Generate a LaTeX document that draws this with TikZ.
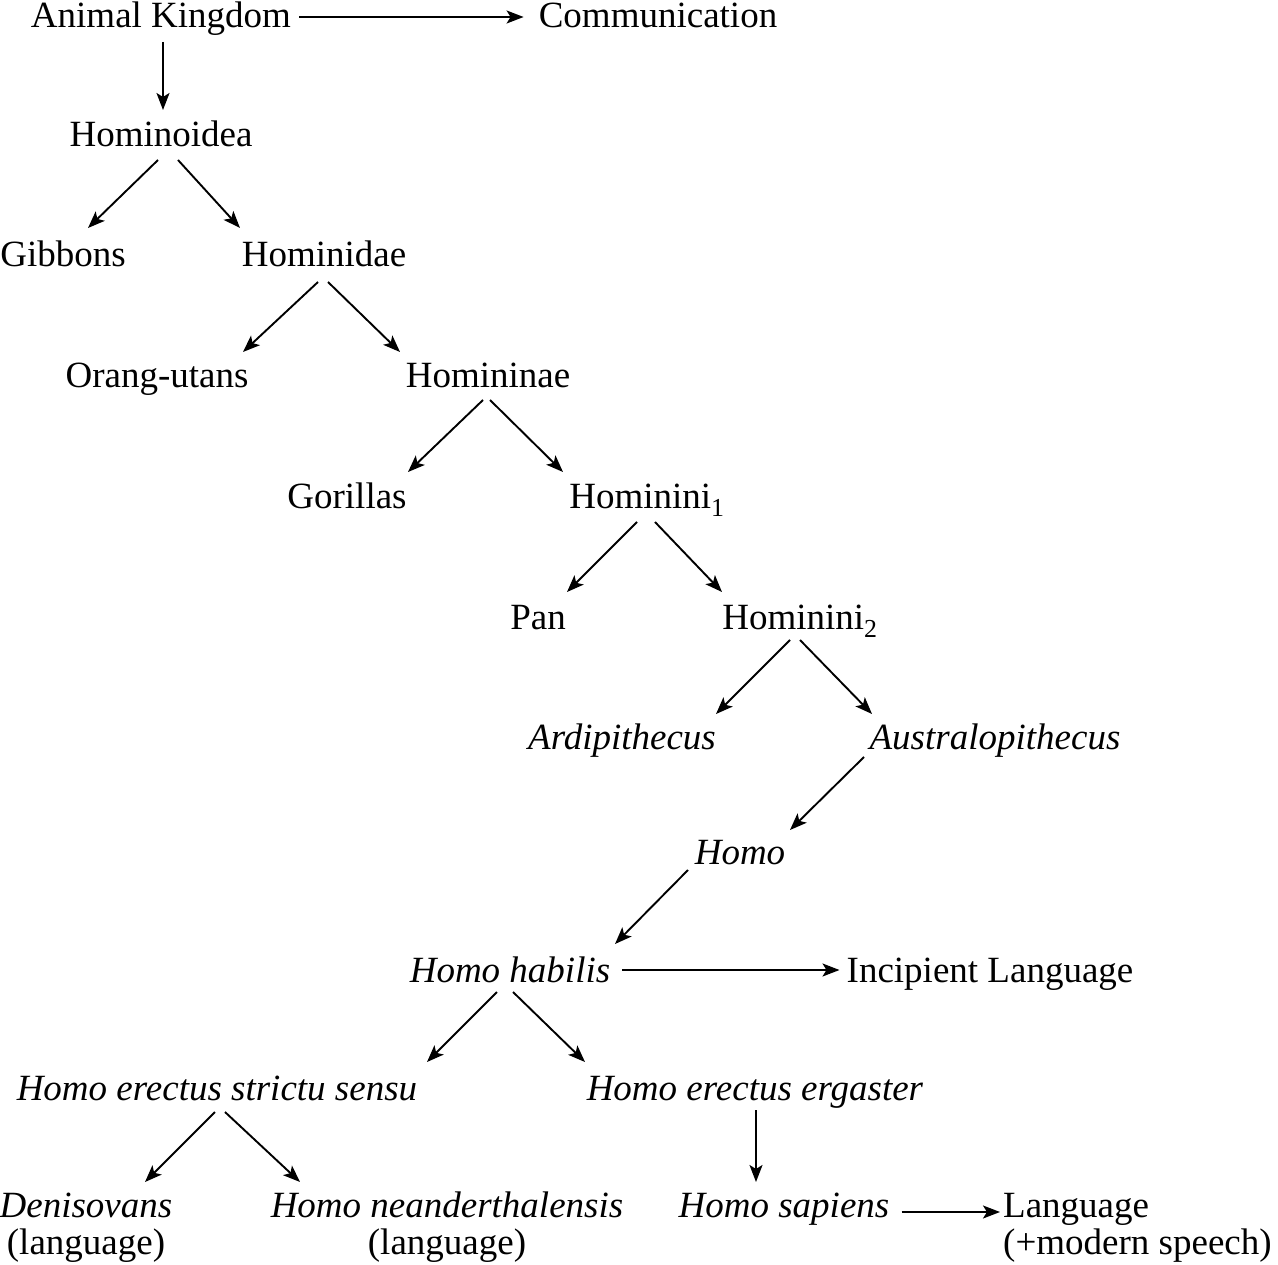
\documentclass[tikz,border=0pt]{standalone}
\usepackage{fontspec}
\setmainfont{Liberation Serif}
\usetikzlibrary{arrows.meta}

\begin{document}
\begin{tikzpicture}[x=1pt,y=-1pt,>={Stealth[length=17pt,width=13pt,inset=4pt]},
  taxon/.style={inner sep=0pt,anchor=base,font=\fontsize{37}{37}\selectfont},
  link/.style={->,line width=1.9pt}]
\useasboundingbox (0,0) rectangle (1278,1265);
\node[taxon] (ak) at (161,28) {Animal Kingdom};
\node[taxon] (comm) at (658,28) {Communication};
\node[taxon] (hoid) at (161,147) {Hominoidea};
\node[taxon] (gib) at (63,267) {Gibbons};
\node[taxon] (hdae) at (324,267) {Hominidae};
\node[taxon] (orang) at (157,388) {Orang-utans};
\node[taxon] (hnae) at (488,388) {Homininae};
\node[taxon] (gor) at (347,508) {Gorillas};
\node[taxon] (hni1) at (647,508) {Hominini\textsubscript{1}};
\node[taxon] (pan) at (538,629) {Pan};
\node[taxon] (hni2) at (800,629) {Hominini\textsubscript{2}};
\node[taxon] (ardi) at (622,749) {\textit{Ardipithecus}};
\node[taxon] (austr) at (995,749) {\textit{Australopithecus}};
\node[taxon] (homo) at (740,864) {\textit{Homo}};
\node[taxon] (hhab) at (510,982) {\textit{Homo habilis}};
\node[taxon] (incip) at (990,982) {Incipient Language};
\node[taxon] (hess) at (217,1100) {\textit{Homo erectus strictu sensu}};
\node[taxon] (hee) at (755,1100) {\textit{Homo erectus ergaster}};
\node[taxon] (deni) at (86,1217) {\begin{tabular}[t]{@{}c@{}}\textit{Denisovans}\\(language)\end{tabular}};
\node[taxon] (nean) at (447,1217) {\begin{tabular}[t]{@{}c@{}}\textit{Homo neanderthalensis}\\(language)\end{tabular}};
\node[taxon] (sap) at (784,1217) {\textit{Homo sapiens}};
\node[taxon,anchor=base west] (lang) at (1003,1217) {\begin{tabular}[t]{@{}l@{}}Language\\(+modern speech)\end{tabular}};

\draw[link,shorten <=8pt,shorten >=15pt] ([yshift=11pt]ak.base east) -- ([yshift=11pt]comm.base west);
\draw[link] ([xshift=2pt,yshift=-14pt]ak.base) -- ([xshift=2pt,yshift=37pt]hoid.base);
\draw[link] ([xshift=-3pt,yshift=-13pt]hoid.base) -- ([xshift=25pt,yshift=39pt]gib.base);
\draw[link] ([xshift=17pt,yshift=-13pt]hoid.base) -- ([xshift=-84pt,yshift=39pt]hdae.base);
\draw[link] ([xshift=-6pt,yshift=-15pt]hdae.base) -- ([xshift=86pt,yshift=36pt]orang.base);
\draw[link] ([xshift=4pt,yshift=-15pt]hdae.base) -- ([xshift=-88pt,yshift=36pt]hnae.base);
\draw[link] ([xshift=-5pt,yshift=-12pt]hnae.base) -- ([xshift=61pt,yshift=36pt]gor.base);
\draw[link] ([xshift=2pt,yshift=-12pt]hnae.base) -- ([xshift=-84pt,yshift=36pt]hni1.base);
\draw[link] ([xshift=-10pt,yshift=-14pt]hni1.base) -- ([xshift=29pt,yshift=37pt]pan.base);
\draw[link] ([xshift=8pt,yshift=-14pt]hni1.base) -- ([xshift=-78pt,yshift=37pt]hni2.base);
\draw[link] ([xshift=-10pt,yshift=-11pt]hni2.base) -- ([xshift=94pt,yshift=35pt]ardi.base);
\draw[link] ([yshift=-11pt]hni2.base) -- ([xshift=-123pt,yshift=35pt]austr.base);
\draw[link] ([xshift=-131pt,yshift=-8pt]austr.base) -- ([xshift=50pt,yshift=34pt]homo.base);
\draw[link] ([xshift=-52pt,yshift=-6pt]homo.base) -- ([xshift=105pt,yshift=38pt]hhab.base);
\draw[link,shorten <=12pt,shorten >=7pt] ([yshift=12pt]hhab.base east) -- ([yshift=12pt]incip.base west);
\draw[link] ([xshift=-13pt,yshift=-10pt]hhab.base) -- ([xshift=210pt,yshift=38pt]hess.base);
\draw[link] ([xshift=3pt,yshift=-10pt]hhab.base) -- ([xshift=-170pt,yshift=38pt]hee.base);
\draw[link] ([xshift=-2pt,yshift=-12pt]hess.base) -- ([xshift=59pt,yshift=35pt]deni.base);
\draw[link] ([xshift=8pt,yshift=-12pt]hess.base) -- ([xshift=-147pt,yshift=35pt]nean.base);
\draw[link] ([xshift=1pt,yshift=-10pt]hee.base) -- ([xshift=-28pt,yshift=35pt]sap.base);
\draw[link,shorten <=12pt,shorten >=3pt] ([yshift=5pt]sap.base east) -- ([yshift=5pt]lang.base west);
\end{tikzpicture}
\end{document}
